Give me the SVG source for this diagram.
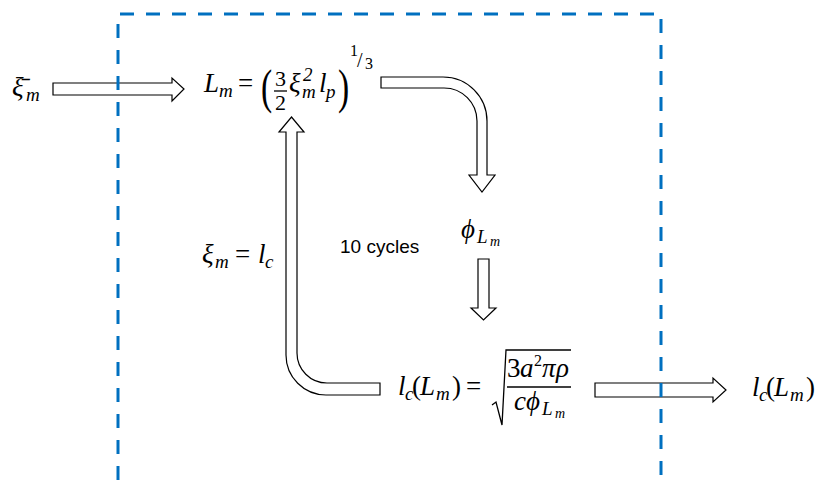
<svg xmlns="http://www.w3.org/2000/svg" width="817" height="480" viewBox="0 0 817 480">
<style>
.m{font-family:"Liberation Serif","DejaVu Serif",serif;font-style:italic;font-size:27px;fill:#000}
.u{font-family:"Liberation Serif","DejaVu Serif",serif;font-style:normal;font-size:27px;fill:#000}
.s{font-size:19px}
.ss{font-size:14px}
.t{font-family:"Liberation Sans",Arial,sans-serif;font-size:19px;fill:#000}
.arr{fill:#fff;stroke:#000;stroke-width:1.2;stroke-linejoin:miter}
.box{fill:none;stroke:#0070C0;stroke-width:3;stroke-dasharray:14 12}
.rule{stroke:#000;stroke-width:1.3;fill:none}
</style>
<g id="connectors">
<path class="arr" d="M53,83 H172 V78 L184,89 L172,101 V95 H53 Z"/>
<path class="arr" d="M381,77 H443 A44,44 0 0 1 487,121 V175 H495 L482,192 L469,175 H477 V121 A33,33 0 0 0 444,88 H381 Z"/>
<path class="arr" d="M478,259 H489 V308 H496 L483.5,320 L471,308 H478 Z"/>
<path class="arr" d="M291.5,117 L304,132 H297 V353 A30,30 0 0 0 327,383 H380 V395 H326 A40,40 0 0 1 286,355 V132 H279 Z"/>
<path class="arr" d="M595,383 H713 V378 L726,390 L713,402 V397 H595 Z"/>
</g>
<g id="boundary">
<path class="box" d="M118,480 V14 H661 V480"/>
</g>
<g id="input">
<text class="m" x="12" y="96">ξ&#x304;</text>
<text class="m s" x="26" y="101">m</text>
</g>
<g id="eq-Lm">
<text class="m" x="204" y="92">L</text>
<text class="m s" x="219" y="97">m</text>
<text class="u" x="238" y="92">=</text>
<text class="u" x="0" y="0" style="font-size:48px" transform="translate(261,103) scale(0.7,1)">(</text>
<text class="u" x="275" y="86" style="font-size:22px">3</text>
<line class="rule" x1="274" y1="91" x2="287" y2="91"/>
<text class="u" x="275" y="110" style="font-size:22px">2</text>
<text class="m" x="289" y="92">ξ</text>
<text class="m s" x="303" y="81">2</text>
<text class="m s" x="302" y="98">m</text>
<text class="m" x="319" y="92">l</text>
<text class="m s" x="326" y="98">p</text>
<text class="u" x="0" y="0" style="font-size:48px" transform="translate(338,103) scale(0.7,1)">)</text>
<text class="u" x="350" y="56" style="font-size:16px">1</text>
<text class="u" x="357" y="67" style="font-size:20px">/</text>
<text class="u" x="365" y="69" style="font-size:16px">3</text>
</g>
<g id="phi">
<text class="m" x="461" y="238">ϕ</text>
<text class="m s" x="477" y="243">L</text>
<text class="m ss" x="490" y="246">m</text>
</g>
<g id="eq-lc">
<text class="m" x="398" y="395">l</text>
<text class="m s" x="405" y="400">c</text>
<text class="u" x="412" y="395">(</text>
<text class="m" x="420" y="395">L</text>
<text class="m s" x="436" y="400">m</text>
<text class="u" x="452" y="395">)</text>
<text class="u" x="466" y="395">=</text>
<path class="rule" d="M492,405 L496,402 L502,425 L506,350 H571"/>
<text class="u" x="507" y="377">3</text>
<text class="m" x="520" y="377">a</text>
<text class="u" x="534" y="366" style="font-size:16px">2</text>
<text class="m" x="542" y="377">π</text>
<text class="m" x="556" y="377">ρ</text>
<line class="rule" x1="507" y1="387" x2="571" y2="387"/>
<text class="m" x="514" y="410">c</text>
<text class="m" x="526" y="410">ϕ</text>
<text class="m s" x="542" y="415">L</text>
<text class="m ss" x="555" y="418">m</text>
</g>
<g id="feedback">
<text class="m" x="202" y="263">ξ</text>
<text class="m s" x="215" y="268">m</text>
<text class="u" x="235" y="263">=</text>
<text class="m" x="258" y="263">l</text>
<text class="m s" x="265" y="268">c</text>
<text class="t" x="340" y="253">10 cycles</text>
</g>
<g id="output">
<text class="m" x="752" y="396">l</text>
<text class="m s" x="759" y="401">c</text>
<text class="u" x="766" y="396">(</text>
<text class="m" x="774" y="396">L</text>
<text class="m s" x="790" y="401">m</text>
<text class="u" x="806" y="396">)</text>
</g>
</svg>
